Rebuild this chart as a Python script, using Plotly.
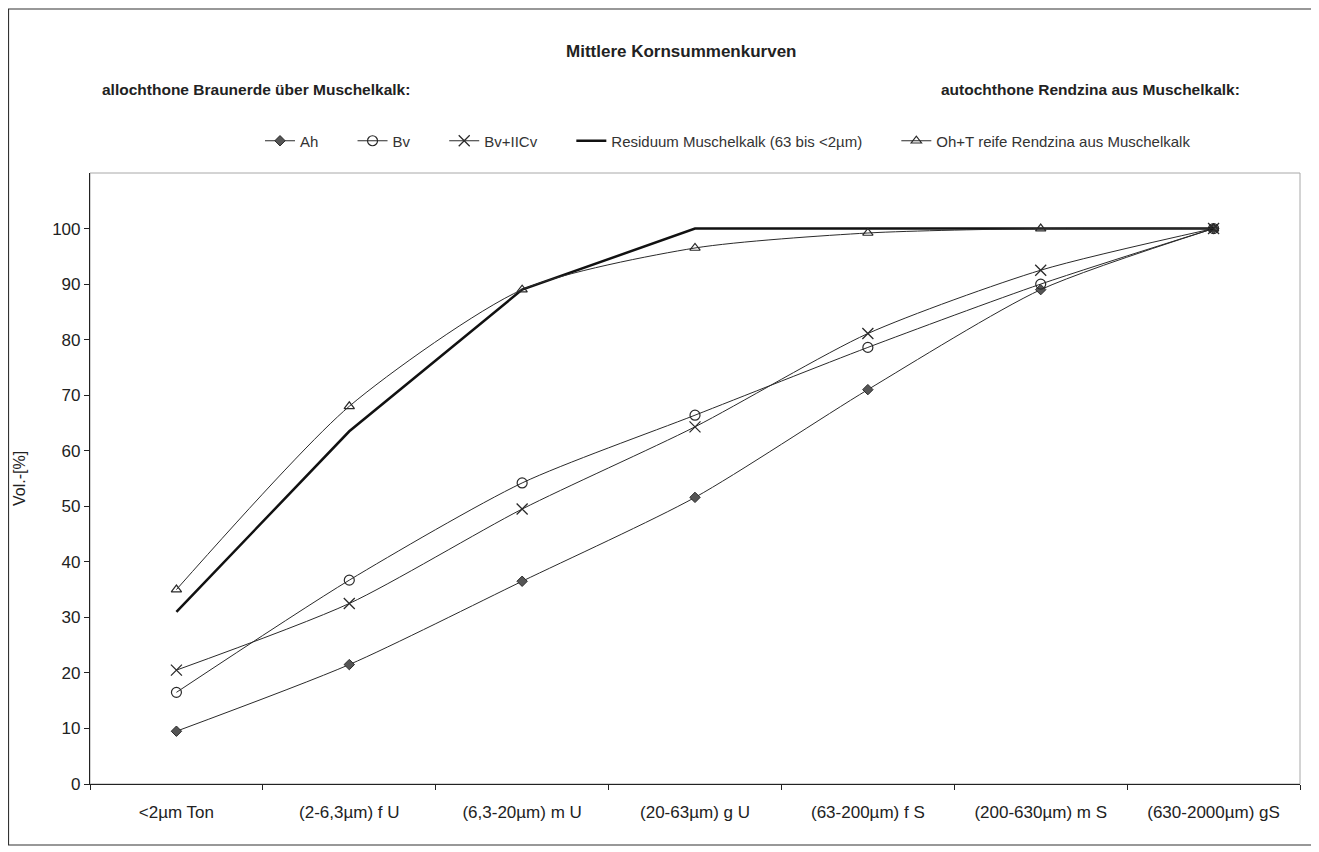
import plotly.graph_objects as go

categories = ["<2µm Ton", "(2-6,3µm) f U", "(6,3-20µm) m U", "(20-63µm) g U",
              "(63-200µm) f S", "(200-630µm) m S", "(630-2000µm) gS"]
ah = [9.5, 21.5, 36.5, 51.6, 71.0, 89.0, 100.0]
bv = [16.5, 36.7, 54.2, 66.4, 78.6, 90.0, 100.0]
bv_iicv = [20.5, 32.5, 49.5, 64.3, 81.1, 92.5, 100.0]
residuum = [31.0, 63.5, 89.0, 100.0, 100.0, 100.0, 100.0]
oh_t = [35.0, 68.0, 89.0, 96.5, 99.2, 100.0, 100.0]
ytick_vals = [0, 10, 20, 30, 40, 50, 60, 70, 80, 90, 100]

FONT = "Liberation Sans, Arial, sans-serif"
LC = "#2a2a2a"
GAP = "\u00a0" * 7

fig = go.Figure()
fig.add_trace(go.Scatter(x=categories, y=ah, name="Ah" + GAP, mode="lines+markers",
                         line=dict(color=LC, width=1, shape="spline", smoothing=0.7),
                         marker=dict(symbol="diamond", size=8, color="#555555",
                                     line=dict(color=LC, width=1))))
fig.add_trace(go.Scatter(x=categories, y=bv, name="Bv" + GAP, mode="lines+markers",
                         line=dict(color=LC, width=1, shape="spline", smoothing=0.7),
                         marker=dict(symbol="circle-open", size=10, color=LC,
                                     line=dict(width=1.2))))
fig.add_trace(go.Scatter(x=categories, y=bv_iicv, name="Bv+IICv" + GAP, mode="lines+markers",
                         line=dict(color=LC, width=1, shape="spline", smoothing=0.7),
                         marker=dict(symbol="x-thin-open", size=11, color=LC,
                                     line=dict(width=1.3, color=LC))))
fig.add_trace(go.Scatter(x=categories, y=residuum, name="Residuum Muschelkalk (63 bis <2µm)" + GAP,
                         mode="lines", line=dict(color="#111111", width=2.5)))
fig.add_trace(go.Scatter(x=categories, y=oh_t, name="Oh+T reife Rendzina aus Muschelkalk",
                         mode="lines+markers",
                         line=dict(color=LC, width=1, shape="spline", smoothing=0.7),
                         marker=dict(symbol="triangle-up-open", size=9, color=LC,
                                     line=dict(width=1.2))))

# page coords -> paper coords (plot area spans page x 90..1300, y 173..784)
def px(x):
    return (x - 90) / 1210


def py(y):
    return (784 - y) / 611


# plot-area grey frame
fig.add_shape(type="rect", xref="paper", yref="paper", x0=0, x1=1, y0=0, y1=1,
              line=dict(color="#a8a8a8", width=1), layer="below")
# outer chart frame
fig.add_shape(type="rect", xref="paper", yref="paper",
              x0=px(8.5), x1=px(1312), y0=py(845), y1=py(9),
              line=dict(color="#333333", width=1.2), layer="below")

fig.add_annotation(text="<b>Mittlere Kornsummenkurven</b>", xref="paper", yref="paper",
                   x=px(681), y=py(51), showarrow=False,
                   font=dict(family=FONT, size=17, color="#222"),
                   xanchor="center", yanchor="middle")
fig.add_annotation(text="<b>allochthone Braunerde über Muschelkalk:</b>", xref="paper", yref="paper",
                   x=px(100), y=py(89), showarrow=False,
                   font=dict(family=FONT, size=15.5, color="#222"),
                   xanchor="left", yanchor="middle")
fig.add_annotation(text="<b>autochthone Rendzina aus Muschelkalk:</b>", xref="paper", yref="paper",
                   x=px(1242), y=py(89), showarrow=False,
                   font=dict(family=FONT, size=15.5, color="#222"),
                   xanchor="right", yanchor="middle")

fig.update_layout(
    width=1311, height=844,
    margin=dict(l=82, r=19, t=165, b=68),
    paper_bgcolor="white", plot_bgcolor="white",
    font=dict(family=FONT, size=17, color="#222"),
    showlegend=True,
    legend=dict(orientation="h", x=px(728), y=py(141),
                xanchor="center", yanchor="middle",
                font=dict(family=FONT, size=15, color="#333"),
                itemwidth=30, bgcolor="rgba(0,0,0,0)"),
    xaxis=dict(type="category", range=[-0.5, 6.5], showgrid=False, zeroline=False,
               showline=True, linecolor="#222", linewidth=1.2,
               ticks="outside", ticklen=5, tickcolor="#222", tickson="boundaries",
               tickfont=dict(family=FONT, size=17, color="#222"),
               ticklabelstandoff=12),
    yaxis=dict(range=[0, 110], tickvals=ytick_vals, showgrid=False, zeroline=False,
               showline=True, linecolor="#222", linewidth=1.2,
               ticks="outside", ticklen=5, tickcolor="#222",
               tickfont=dict(family=FONT, size=17, color="#222"),
               title=dict(text="Vol.-[%]", font=dict(family=FONT, size=16, color="#222"),
                          standoff=22)),
)

fig.write_html("out.html")
